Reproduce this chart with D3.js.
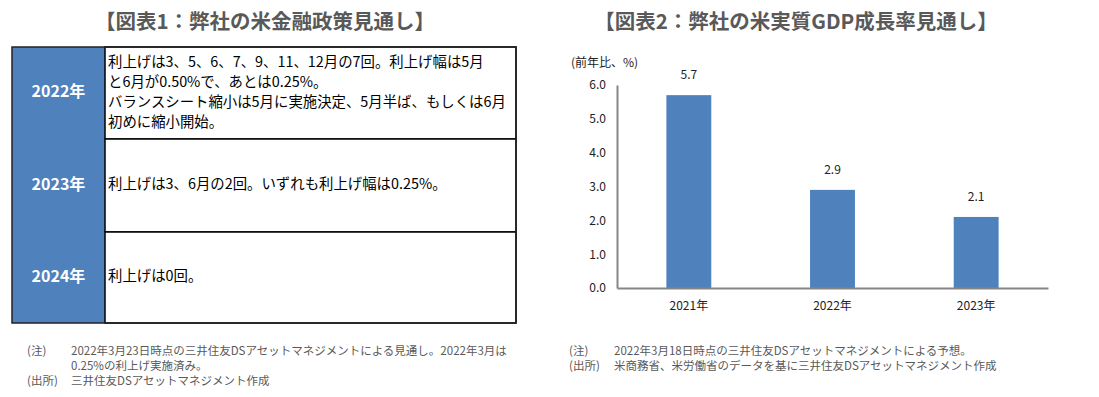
<!DOCTYPE html>
<html>
<head>
<meta charset="utf-8">
<script src="https://cdn.jsdelivr.net/npm/d3@7"></script>
<style>
  body { margin: 0; background: #fff; }
  text { font-family: "Noto Sans CJK JP", "Noto Sans", sans-serif; }
</style>
</head>
<body>
<svg id="chart" width="1099" height="397"></svg>
<script>
// left table data
const policyYears = ['2022年', '2023年', '2024年'];
const policyLines = [
  ['利上げは3、5、6、7、9、11、12月の7回。利上げ幅は5月', 'と6月が0.50%で、あとは0.25%。', 'バランスシート縮小は5月に実施決定、5月半ば、もしくは6月', '初めに縮小開始。'],
  ['利上げは3、6月の2回。いずれも利上げ幅は0.25%。'],
  ['利上げは0回。']
];
const leftNotes = [
  ['(注)', '2022年3月23日時点の三井住友DSアセットマネジメントによる見通し。2022年3月は'],
  ['', '0.25%の利上げ実施済み。'],
  ['(出所)', '三井住友DSアセットマネジメント作成']
];

// right chart data
const gdpYears = ['2021年', '2022年', '2023年'];
const gdpValues = [5.7, 2.9, 2.1];
const yTicks = [0, 1, 2, 3, 4, 5, 6];
const rightNotes = [
  ['(注)', '2022年3月18日時点の三井住友DSアセットマネジメントによる予想。'],
  ['(出所)', '米商務省、米労働省のデータを基に三井住友DSアセットマネジメント作成']
];

const svg = d3.select('#chart');
const blue = '#4f81bd';
const grey = '#595959';

// ---- titles
svg.append('text').attr('x', 265).attr('y', 23)
  .attr('text-anchor', 'middle').attr('dominant-baseline', 'middle')
  .attr('font-size', 20.5).attr('font-weight', 'bold').attr('fill', grey)
  .text('【図表1：弊社の米金融政策見通し】');
svg.append('text').attr('x', 796).attr('y', 23)
  .attr('text-anchor', 'middle').attr('dominant-baseline', 'middle')
  .attr('font-size', 20.5).attr('font-weight', 'bold').attr('fill', grey)
  .text('【図表2：弊社の米実質GDP成長率見通し】');

// ---- table
const tLeft = 12, tRight = 516, tTop = 47, colW = 93;
const rowY = d3.scaleOrdinal().domain(policyYears).range([47, 139, 232]);
const rowH = [92, 93, 91];

const rows = svg.append('g').selectAll('g').data(policyYears).join('g')
  .attr('transform', d => `translate(0,${rowY(d)})`);

rows.append('rect').attr('x', tLeft).attr('y', 0)
  .attr('width', colW).attr('height', (d, i) => rowH[i])
  .attr('fill', blue);
rows.append('rect').attr('x', tLeft + colW).attr('y', 0)
  .attr('width', tRight - tLeft - colW).attr('height', (d, i) => rowH[i])
  .attr('fill', '#fff').attr('stroke', '#000').attr('stroke-width', 1.5);
rows.append('text').attr('x', tLeft + colW / 2).attr('y', (d, i) => rowH[i] / 2)
  .attr('text-anchor', 'middle').attr('dominant-baseline', 'middle')
  .attr('font-size', 16).attr('font-weight', 'bold').attr('fill', '#fff')
  .text(d => d);
rows.each(function (d, i) {
  const lines = policyLines[i];
  const lh = 20;
  const y0 = rowH[i] / 2 - (lines.length - 1) * lh / 2;
  d3.select(this).selectAll('text.body').data(lines).join('text')
    .attr('class', 'body')
    .attr('x', tLeft + colW + 3).attr('y', (l, j) => y0 + j * lh)
    .attr('dominant-baseline', 'middle')
    .attr('font-size', 14.4).attr('fill', '#000')
    .text(l => l);
});
// outer frame of the table
svg.append('rect').attr('x', tLeft).attr('y', tTop)
  .attr('width', tRight - tLeft).attr('height', 323 - tTop)
  .attr('fill', 'none').attr('stroke', '#222').attr('stroke-width', 1.5);

// ---- notes
function notes(data, x0, x1, y0) {
  const g = svg.append('g');
  g.selectAll('g').data(data).join('g')
    .attr('transform', (d, i) => `translate(0,${y0 + i * 15})`)
    .each(function (d) {
      const s = d3.select(this);
      s.append('text').attr('x', x0).attr('dominant-baseline', 'middle')
        .attr('font-size', 11.5).attr('fill', grey).text(d[0]);
      s.append('text').attr('x', x1).attr('dominant-baseline', 'middle')
        .attr('font-size', 11.5).attr('fill', grey).text(d[1]);
    });
}
notes(leftNotes, 27, 71, 352);
notes(rightNotes, 569, 614, 352);

// ---- bar chart
const x = d3.scaleBand().domain(gdpYears).range([617, 1048])
  .paddingInner(0.6875).paddingOuter(0.34375);
const y = d3.scaleLinear().domain([0, 6]).range([288, 85]);

svg.append('g').selectAll('rect').data(gdpValues).join('rect')
  .attr('x', (d, i) => x(gdpYears[i])).attr('width', x.bandwidth())
  .attr('y', d => y(d)).attr('height', d => y(0) - y(d))
  .attr('fill', blue);

svg.append('g').selectAll('text').data(gdpValues).join('text')
  .attr('x', (d, i) => x(gdpYears[i]) + x.bandwidth() / 2)
  .attr('y', d => y(d) - 19)
  .attr('text-anchor', 'middle').attr('dominant-baseline', 'middle')
  .attr('font-size', 12).attr('fill', '#222')
  .text(d => d.toFixed(1));

const yAxis = svg.append('g').attr('transform', 'translate(617,0)')
  .call(d3.axisLeft(y).tickValues(yTicks).tickSize(0).tickPadding(11).tickFormat(d3.format('.1f')));
yAxis.select('.domain').attr('stroke', '#868686').attr('stroke-width', 2);
yAxis.selectAll('text').attr('font-size', 12).attr('fill', '#222')
  .attr('font-family', '"Noto Sans CJK JP", sans-serif');

const xAxis = svg.append('g').attr('transform', 'translate(0,288)')
  .call(d3.axisBottom(x).tickSize(0).tickPadding(13).tickSizeOuter(0));
xAxis.select('.domain').attr('stroke', '#868686').attr('stroke-width', 2);
xAxis.selectAll('text').attr('font-size', 12).attr('fill', '#222')
  .attr('font-family', '"Noto Sans CJK JP", sans-serif');

svg.append('text').attr('x', 571).attr('y', 64)
  .attr('dominant-baseline', 'middle')
  .attr('font-size', 12).attr('fill', '#222')
  .text('(前年比、%)');
</script>
</body>
</html>
